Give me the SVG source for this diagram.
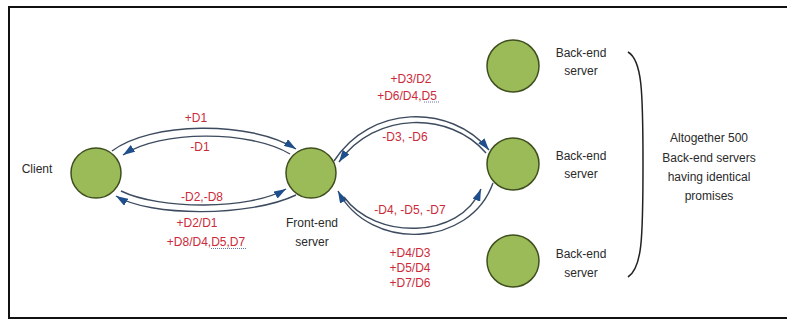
<svg xmlns="http://www.w3.org/2000/svg" width="787" height="320" viewBox="0 0 787 320">
<defs>
<marker id="ah" viewBox="0 0 12 8" refX="12" refY="4" markerWidth="12" markerHeight="8" markerUnits="userSpaceOnUse" orient="auto">
<path d="M0,0 L12,4 L0,8 z" fill="#1f4e8c"/>
</marker>
<style>
.node{fill:#9bbb59;stroke:#3f4f1f;stroke-width:1.5}
.lbl{font-family:"Liberation Sans",Arial,sans-serif;font-size:12px;fill:#2a2a2a;text-anchor:middle}
.red{font-family:"Liberation Sans",Arial,sans-serif;font-size:12px;fill:#cc2a3a;text-anchor:middle}
.arc{fill:none;stroke:#3d4b5e;stroke-width:1.4;marker-end:url(#ah)}
.sq{fill:none;stroke:#6a78a8;stroke-width:1;stroke-dasharray:1 1}
</style>
</defs>
<rect width="787" height="320" fill="#ffffff"/>
<rect x="9" y="7" width="790" height="311" fill="none" stroke="#111" stroke-width="2"/>

<g id="connectors">
<path class="arc" d="M112,151 C150,122 250,120 296,149"/>
<path class="arc" d="M290,154 C250,130 160,130 123,155"/>
<path class="arc" d="M296,195 C250,217 150,217 116,196"/>
<path class="arc" d="M121,191 C160,210 250,210 286,189"/>
<path class="arc" d="M334,161 C370,105 450,103 489,150"/>
<path class="arc" d="M486,153 C450,111 375,111 339,162"/>
<path class="arc" d="M493,183 C470,248 370,252 338,191"/>
<path class="arc" d="M344,197 C375,240 460,240 481,189"/>
</g>

<g id="edge-labels">
<text class="red" x="196" y="122">+D1</text>
<text class="red" x="200" y="151">-D1</text>
<text class="red" x="202" y="201">-D2,-D8</text>
<text class="red" x="197" y="227">+D2/D1</text>
<text class="red" x="206" y="246">+D8/D4,D5,D7</text>
<path class="sq" d="M211,248.5 L247,248.5"/>
<text class="red" x="411" y="83">+D3/D2</text>
<text class="red" x="407" y="100">+D6/D4,D5</text>
<path class="sq" d="M424,102 L439,102"/>
<text class="red" x="405" y="141">-D3, -D6</text>
<text class="red" x="410" y="214">-D4, -D5, -D7</text>
<text class="red" x="410" y="257">+D4/D3</text>
<text class="red" x="410" y="272">+D5/D4</text>
<text class="red" x="410" y="287">+D7/D6</text>
</g>

<g id="client">
<circle class="node" cx="96" cy="173" r="25"/>
<text class="lbl" x="37" y="173">Client</text>
</g>

<g id="frontend">
<circle class="node" cx="311" cy="173" r="25"/>
<text class="lbl" x="312" y="227">Front-end</text>
<text class="lbl" x="312" y="246">server</text>
</g>

<g id="backend1">
<circle class="node" cx="513" cy="66" r="26"/>
<text class="lbl" x="581" y="57">Back-end</text>
<text class="lbl" x="581" y="75">server</text>
</g>

<g id="backend2">
<circle class="node" cx="513" cy="164" r="26"/>
<text class="lbl" x="581" y="160">Back-end</text>
<text class="lbl" x="581" y="178">server</text>
</g>

<g id="backend3">
<circle class="node" cx="513" cy="261" r="26"/>
<text class="lbl" x="581" y="258">Back-end</text>
<text class="lbl" x="581" y="277">server</text>
</g>

<g id="group-note">
<path d="M628,52 C642,60 643,90 643,164 C643,240 642,268 628,277" fill="none" stroke="#222" stroke-width="1.5"/>
<text class="lbl" x="709" y="142">Altogether 500</text>
<text class="lbl" x="709" y="162">Back-end servers</text>
<text class="lbl" x="709" y="181">having identical</text>
<text class="lbl" x="709" y="200">promises</text>
</g>
</svg>
